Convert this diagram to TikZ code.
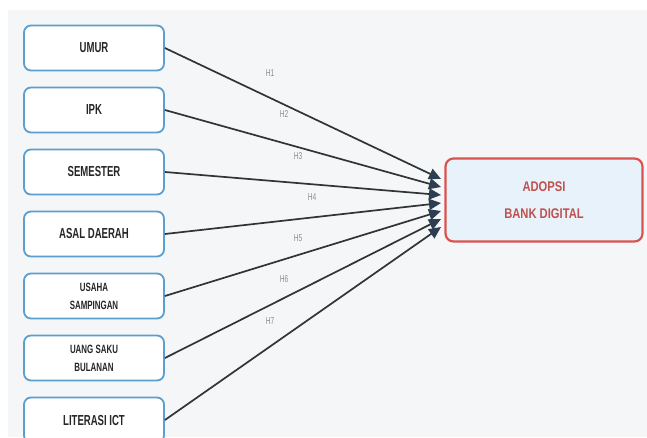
\documentclass[tikz,border=0pt]{standalone}
\usepackage{fontspec}
\setmainfont{Liberation Sans}
\newfontfamily\narrowfont[FakeStretch=0.66]{Liberation Sans}
\newfontfamily\depfont[FakeStretch=0.8]{Liberation Sans}
\usepackage{tikz}
\usetikzlibrary{arrows.meta,positioning}
\definecolor{bgcol}{HTML}{F4F6F8}
\definecolor{varblue}{HTML}{5A9FD0}
\definecolor{depred}{HTML}{D9534F}
\definecolor{deptext}{HTML}{C0504D}
\definecolor{depfill}{HTML}{E8F2FB}
\definecolor{linecol}{HTML}{2F3437}
\definecolor{tipcol}{HTML}{2C3E50}
\tikzset{
  var/.style={draw=varblue, line width=1.8pt, fill=white, rounded corners=7pt, minimum width=140pt, minimum height=45pt, align=center, font=\narrowfont\bfseries\fontsize{14.5}{16}\selectfont, text=black!85},
  vartwo/.style={var, font=\narrowfont\bfseries\fontsize{12}{18}\selectfont},
  dep/.style={draw=depred, line width=2.2pt, fill=depfill, rounded corners=8pt, minimum width=197pt, minimum height=83pt, align=center, font=\depfont\bfseries\fontsize{14}{27}\selectfont, text=deptext},
  hyp/.style={draw=linecol, line width=1.7pt, -{Triangle[length=12pt,width=11pt,color=tipcol]}},
  hlabel/.style={font=\narrowfont\fontsize{10}{11}\selectfont, text=black!45, inner sep=1pt}
}

\begin{document}
\begin{tikzpicture}[x=1pt, y=-1pt, node distance=15.2pt]

\useasboundingbox (0,0) rectangle (647,437);
\fill[bgcol] (8,10) rectangle (647,437);

\node[var] (umur) at (94,48) {UMUR};
\node[var, below=of umur] (ipk) {IPK};
\node[var, below=of ipk] (semester) {SEMESTER};
\node[var, below=of semester] (asal) {ASAL DAERAH};
\node[vartwo, below=of asal] (usaha) {USAHA\\SAMPINGAN};
\node[vartwo, below=of usaha] (uang) {UANG SAKU\\BULANAN};
\node[var, below=of uang] (literasi) {LITERASI ICT};

\node[dep] (adopsi) at (544,200) {ADOPSI\\BANK DIGITAL};

% arrow tips in front of the dependent box
\coordinate (t1) at (441,179);
\coordinate (t2) at (441,187);
\coordinate (t3) at (441,195);
\coordinate (t4) at (441,203);
\coordinate (t5) at (441,211);
\coordinate (t6) at (441,219);
\coordinate (t7) at (441,227);

\draw[hyp] (umur.east) -- (t1);
\draw[hyp] (ipk.east) -- (t2);
\draw[hyp] (semester.east) -- (t3);
\draw[hyp] (asal.east) -- (t4);
\draw[hyp] (usaha.east) -- (t5);
\draw[hyp] (uang.east) -- (t6);
\draw[hyp] (literasi.east) -- (t7);

\node[hlabel] (h1) at (270,73) {H1};
\node[hlabel] (h2) at (284,114) {H2};
\node[hlabel] (h3) at (298,156) {H3};
\node[hlabel] (h4) at (312,197) {H4};
\node[hlabel] (h5) at (298,238) {H5};
\node[hlabel] (h6) at (284,279) {H6};
\node[hlabel] (h7) at (270,321) {H7};

\end{tikzpicture}
\end{document}
